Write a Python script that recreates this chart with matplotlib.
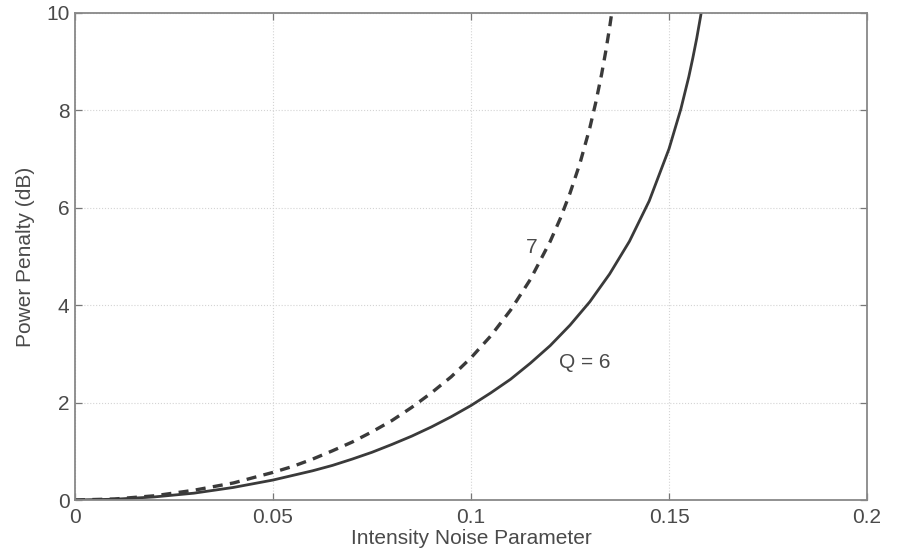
import matplotlib
matplotlib.use("Agg")
import matplotlib.pyplot as plt

plt.rcParams['font.family'] = ['Liberation Sans', 'DejaVu Sans']

# Q = 6 (solid)
x_q6 = [0, 0.01, 0.02, 0.03, 0.04, 0.05, 0.06, 0.065, 0.07, 0.075, 0.08, 0.085, 0.09, 0.095,
        0.10, 0.105, 0.11, 0.115, 0.12, 0.125, 0.13, 0.135, 0.14, 0.145, 0.15, 0.153, 0.155,
        0.156, 0.157, 0.158, 0.1585]
y_q6 = [0, 0.016, 0.063, 0.14, 0.258, 0.41, 0.60, 0.71, 0.84, 0.98, 1.14, 1.31, 1.50, 1.71,
        1.94, 2.20, 2.48, 2.81, 3.17, 3.59, 4.07, 4.64, 5.31, 6.14, 7.21, 8.03, 8.69,
        9.07, 9.48, 9.94, 10.2]

# Q = 7 (dashed)
x_q7 = [0, 0.01, 0.02, 0.03, 0.04, 0.05, 0.055, 0.06, 0.065, 0.07, 0.075, 0.08, 0.085, 0.09,
        0.095, 0.10, 0.105, 0.11, 0.115, 0.12, 0.1225, 0.125, 0.1275, 0.13, 0.1315, 0.133,
        0.134, 0.135, 0.1355, 0.136]
y_q7 = [0, 0.021, 0.086, 0.20, 0.35, 0.567, 0.69, 0.84, 1.01, 1.19, 1.40, 1.63, 1.90, 2.20,
        2.53, 2.92, 3.37, 3.90, 4.53, 5.31, 5.77, 6.30, 6.91, 7.64, 8.16, 8.75,
        9.20, 9.70, 9.98, 10.3]

x_ticks = [0, 0.05, 0.1, 0.15, 0.2]
x_tick_labels = ['0', '0.05', '0.1', '0.15', '0.2']
y_ticks = [0, 2, 4, 6, 8, 10]

fig = plt.figure(figsize=(8.99, 5.57), dpi=100)
ax = fig.add_axes([75 / 899, 57 / 557, 792 / 899, 487 / 557])

ax.plot(x_q6, y_q6, color='#3a3a3a', lw=2.0, solid_capstyle='butt')
ax.plot(x_q7, y_q7, color='#3a3a3a', lw=2.4, linestyle=(0, (3.0, 2.2)))

ax.set_xlim(0, 0.2)
ax.set_ylim(0, 10)
ax.set_xticks(x_ticks)
ax.set_xticklabels(x_tick_labels)
ax.set_yticks(y_ticks)
ax.tick_params(direction='in', length=5, color='#777777', labelsize=15,
               labelcolor='#4a4a4a', width=0.9)
ax.tick_params(axis='x', pad=6)
ax.tick_params(axis='y', pad=4)
ax.yaxis.set_ticks_position('both')
ax.xaxis.set_ticks_position('both')
ax.grid(True, linestyle=':', color='#d4d4d4', lw=0.8)
for s in ax.spines.values():
    s.set_color('#888888')
    s.set_linewidth(1.3)

ax.text(0.1154, 5.19, '7', fontsize=15, color='#4a4a4a', ha='center', va='center')
ax.text(0.1288, 2.83, 'Q = 6', fontsize=15, color='#4a4a4a', ha='center', va='center')

ax.set_xlabel('Intensity Noise Parameter', fontsize=15, color='#4a4a4a', labelpad=1)
ax.set_ylabel('Power Penalty (dB)', fontsize=15, color='#4a4a4a', labelpad=8)

fig.savefig('out.png', dpi=100)
